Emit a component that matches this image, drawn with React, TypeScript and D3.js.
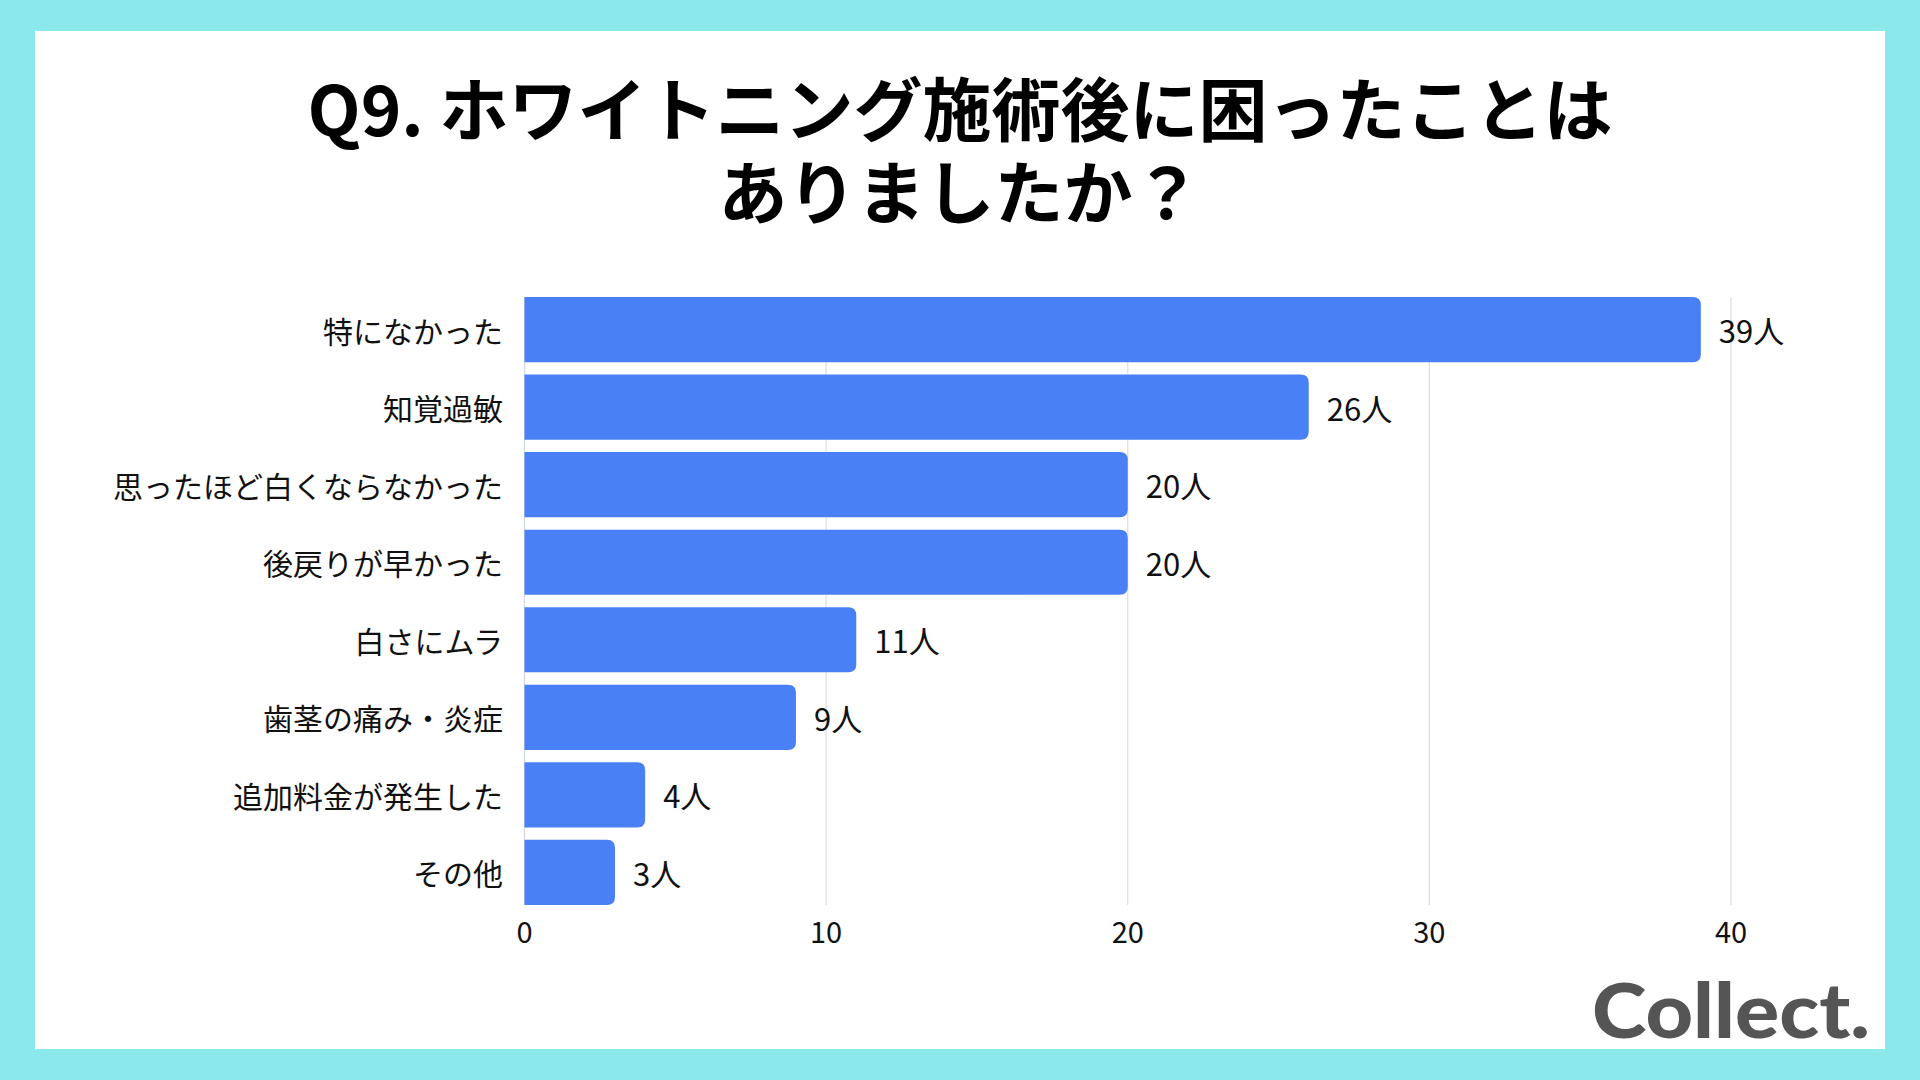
import React from 'react'
import * as d3 from 'd3'

const W = 1920
const H = 1080

const titleLines = ['Q9. ホワイトニング施術後に困ったことは', 'ありましたか？']

const categories = [
  '特になかった',
  '知覚過敏',
  '思ったほど白くならなかった',
  '後戻りが早かった',
  '白さにムラ',
  '歯茎の痛み・炎症',
  '追加料金が発生した',
  'その他',
]
const counts = [39, 26, 20, 20, 11, 9, 4, 3]
const xTicks = [0, 10, 20, 30, 40]
const unit = '人'

const FONT = '"Noto Sans CJK JP", "Noto Sans", sans-serif'
const BAR = '#4a80f5'

// bar with square left edge and rounded right corners
function barPath(x0: number, x1: number, y: number, h: number, r: number) {
  const rr = Math.min(r, (x1 - x0) / 2, h / 2)
  return `M${x0},${y}H${x1 - rr}Q${x1},${y} ${x1},${y + rr}V${y + h - rr}Q${x1},${y + h} ${x1 - rr},${y + h}H${x0}Z`
}

export default function App() {
  const x = d3.scaleLinear().domain([0, 40]).range([524.5, 1731])
  const y = d3.scaleBand<string>()
    .domain(categories)
    .range([297, 905])
    .paddingInner(0.16)
    .paddingOuter(0)

  const top = y.range()[0]
  const bottom = y.range()[1]

  return (
    <svg width={W} height={H} style={{ display: 'block', position: 'absolute', left: 0, top: 0 }}>
      <rect x={0} y={0} width={W} height={H} fill="#8be9ec" />
      <rect x={35} y={31} width={1850} height={1018} fill="#ffffff" />

      {titleLines.map((t, i) => (
        <text key={i} x={960} y={106 + i * 83} textAnchor="middle" dominantBaseline="central"
          fontFamily={FONT} fontWeight={700} fontSize={69} fill="#000">{t}</text>
      ))}

      <g>
        {xTicks.map(t => (
          <line key={t} x1={x(t)} x2={x(t)} y1={top} y2={bottom}
            stroke={t === 0 ? '#cfd6e6' : '#dddddd'} strokeWidth={1.2} />
        ))}
        {xTicks.map(t => (
          <text key={'t' + t} x={x(t)} y={930} textAnchor="middle" dominantBaseline="central"
            fontFamily={FONT} fontSize={29} fill="#111">{t}</text>
        ))}
      </g>

      <g>
        {categories.map((c, i) => {
          const yy = y(c) as number
          const bw = y.bandwidth()
          return (
            <g key={c}>
              <path d={barPath(x(0), x(counts[i]), yy, bw, 8)} fill={BAR} />
              <text x={503} y={yy + bw / 2} textAnchor="end" dominantBaseline="central"
                fontFamily={FONT} fontSize={30} fill="#111">{c}</text>
              <text x={x(counts[i]) + 18} y={yy + bw / 2} dominantBaseline="central"
                fontFamily={FONT} fontSize={31} fill="#111">{counts[i] + unit}</text>
            </g>
          )
        })}
      </g>

      <text x={1870} y={1038} textAnchor="end" fontFamily='Lato, "Open Sans", sans-serif'
        fontWeight={900} fontSize={76} fill="#555555" textLength={278} lengthAdjust="spacingAndGlyphs">Collect.</text>
    </svg>
  )
}
